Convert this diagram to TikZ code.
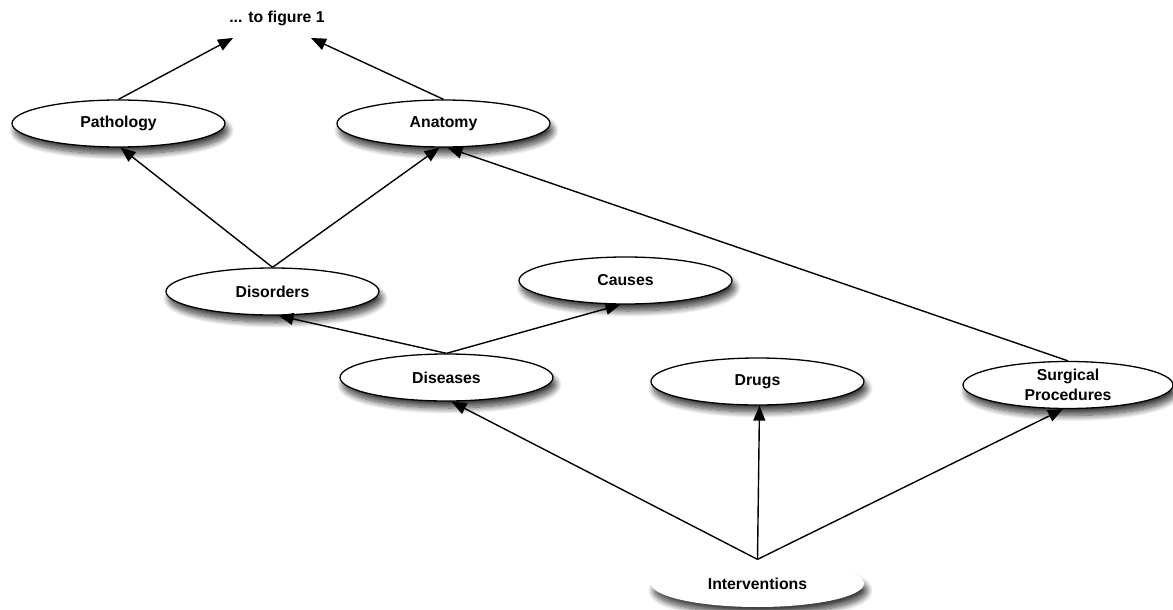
\documentclass[tikz,border=0pt]{standalone}
\usepackage{fontspec}
\setmainfont{Liberation Sans}
\usetikzlibrary{shapes.geometric,arrows.meta,shadows.blur}
\begin{document}
\begin{tikzpicture}[x=1pt,y=-1pt,
  concept/.style={ellipse, draw=black, line width=1.3pt, fill=white,
    minimum width=213pt, minimum height=47pt, inner sep=0pt,
    font=\fontsize{15.8}{19.5}\selectfont\bfseries, align=center,
    blur shadow={shadow xshift=3pt, shadow yshift=-7pt, shadow blur radius=6pt, shadow blur steps=12, shadow opacity=75}},
  plain/.style={concept, draw=none},
  link/.style={line width=1.4pt, -{Triangle[length=15pt,width=12pt]}}]
\useasboundingbox (0,0) rectangle (1173,610);
\node[font=\fontsize{15.8}{19}\selectfont\bfseries] (fig) at (277,18) {... to figure 1};
\coordinate (figL) at (233,38);
\coordinate (figR) at (311,38);
\node[concept] (path) at (118.5,123.5) {Pathology};
\node[concept] (anat) at (443.5,123.5) {Anatomy};
\node[concept] (dis) at (272.5,291.5) {Disorders};
\node[concept] (cau) at (625.5,280.5) {Causes};
\node[concept] (dse) at (446.5,377.5) {Diseases};
\node[concept] (drg) at (757.5,381.5) {Drugs};
\node[concept, minimum width=210pt] (sur) at (1068,385) {Surgical\\Procedures};
\node[plain] (int) at (757.5,583.5) {Interventions};
\draw[link] (path.north) -- (figL);
\draw[link] (anat.north) -- (figR);
\draw[link] (dis.north) -- ([xshift=2pt]path.south);
\draw[link] (dis.north) -- ([xshift=-4pt]anat.south);
\draw[link] (dse.north) -- ([xshift=6pt]dis.south);
\draw[link] (dse.north) -- ([xshift=-5pt]cau.south);
\draw[link] (sur.north) -- ([xshift=4pt]anat.south);
\draw[link] (int.north) -- ([xshift=5pt]dse.south);
\draw[link] (int.north) -- ([xshift=2pt]drg.south);
\draw[link] (int.north) -- ([xshift=-5pt]sur.south);
\end{tikzpicture}
\end{document}
